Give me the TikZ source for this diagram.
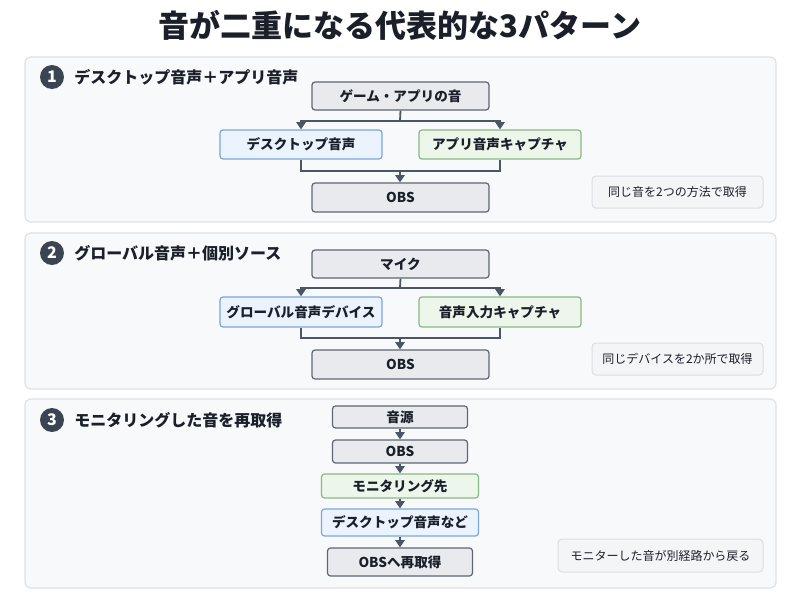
\documentclass[tikz,border=0pt]{standalone}
\usepackage{fontspec}
\setmainfont{Noto Sans CJK JP}
\newfontfamily\titlejp{Noto Sans CJK JP Black}
\usetikzlibrary{arrows.meta}

\definecolor{ink}{HTML}{1A1F29}
\definecolor{panelbg}{HTML}{F8F9FA}
\definecolor{panelline}{HTML}{DEE2E7}
\definecolor{boxgray}{HTML}{E8EAED}
\definecolor{boxline}{HTML}{5F6773}
\definecolor{bluebg}{HTML}{EAF3FE}
\definecolor{blueline}{HTML}{7AA7DC}
\definecolor{greenbg}{HTML}{EDF6EB}
\definecolor{greenline}{HTML}{88B885}
\definecolor{notebg}{HTML}{F4F5F7}
\definecolor{noteline}{HTML}{DADFE5}
\definecolor{arrowc}{HTML}{4B5563}
\definecolor{numbg}{HTML}{3B4452}

\newcommand{\titlefont}{\fontsize{15.5}{18}\selectfont\titlejp}
\newcommand{\headfont}{\fontsize{8}{10}\selectfont\bfseries}
\newcommand{\numfont}{\fontsize{8}{9}\selectfont\bfseries}
\newcommand{\boxfont}{\fontsize{6.8}{8}\selectfont\bfseries}
\newcommand{\notefont}{\fontsize{6}{7.5}\selectfont}

\begin{document}
\begin{tikzpicture}[x=0.5pt,y=-0.5pt,
  panel/.style={draw=panelline,fill=panelbg,rounded corners=3pt,line width=0.6pt},
  box/.style={draw=boxline,fill=boxgray,rounded corners=1.5pt,line width=0.6pt,font=\boxfont,text=ink,inner sep=0pt},
  bluebox/.style={box,draw=blueline,fill=bluebg},
  greenbox/.style={box,draw=greenline,fill=greenbg},
  note/.style={draw=noteline,fill=notebg,rounded corners=2pt,line width=0.5pt,font=\notefont,text=ink,inner sep=0pt},
  num/.style={circle,fill=numbg,text=white,font=\numfont,minimum size=12pt,inner sep=0pt},
  head/.style={anchor=west,font=\headfont,text=ink,inner sep=0pt},
  line/.style={draw=arrowc,line width=0.9pt},
  flow/.style={line,-{Triangle[width=4.6pt,length=3.6pt]}}
]
\fill[white] (0,0) rectangle (800,600);
\useasboundingbox (0,0) rectangle (800,600);

\node[font=\titlefont,text=ink] (title) at (400,25) {音が二重になる代表的な3パターン};

% panels
\draw[panel] (25,57) rectangle (776,222);
\draw[panel] (25,233) rectangle (776,389);
\draw[panel] (25,399) rectangle (776,588);

% pattern 1
\node[num] (n1) at (52,77) {1};
\node[head] (h1) at (74,77) {デスクトップ音声＋アプリ音声};
\node[box,minimum width=88.5pt,minimum height=14pt] (src1) at (400.5,96) {ゲーム・アプリの音};
\node[bluebox,minimum width=81pt,minimum height=14.5pt] (desk1) at (301,144.5) {デスクトップ音声};
\node[greenbox,minimum width=81pt,minimum height=14.5pt] (app1) at (500,144.5) {アプリ音声キャプチャ};
\node[box,minimum width=88.5pt,minimum height=14.5pt] (obs1) at (400.5,197.5) {OBS};
\node[note,minimum width=85.5pt,minimum height=16pt] (note1) at (677.5,192) {同じ音を2つの方法で取得};
\coordinate (s1) at (400,121);
\coordinate (m1) at (400,171);
\draw[line] (src1.south) -- (s1);
\draw[flow] (s1) -| (desk1.north);
\draw[flow] (s1) -| (app1.north);
\draw[line] (desk1.south) |- (m1);
\draw[line] (app1.south) |- (m1);
\draw[flow] (m1) -- (m1 |- obs1.north);

% pattern 2
\node[num] (n2) at (52,253) {2};
\node[head] (h2) at (74,253) {グローバル音声＋個別ソース};
\node[box,minimum width=88.5pt,minimum height=14pt] (mic2) at (400.5,264) {マイク};
\node[bluebox,minimum width=81pt,minimum height=15pt] (glob2) at (301,312) {グローバル音声デバイス};
\node[greenbox,minimum width=81pt,minimum height=15pt] (cap2) at (500,312) {音声入力キャプチャ};
\node[box,minimum width=88.5pt,minimum height=14.5pt] (obs2) at (400.5,364.5) {OBS};
\node[note,minimum width=85.5pt,minimum height=16pt] (note2) at (677.5,359) {同じデバイスを2か所で取得};
\coordinate (s2) at (400,288);
\coordinate (m2) at (400,338);
\draw[line] (mic2.south) -- (s2);
\draw[flow] (s2) -| (glob2.north);
\draw[flow] (s2) -| (cap2.north);
\draw[line] (glob2.south) |- (m2);
\draw[line] (cap2.south) |- (m2);
\draw[flow] (m2) -- (m2 |- obs2.north);

% pattern 3
\node[num] (n3) at (52,420) {3};
\node[head] (h3) at (74,420) {モニタリングした音を再取得};
\node[box,minimum width=67.5pt,minimum height=11pt] (src3) at (400,417) {音源};
\node[box,minimum width=67.5pt,minimum height=11.5pt] (obs3) at (400,451.5) {OBS};
\node[greenbox,minimum width=78.5pt,minimum height=12pt] (mon3) at (400,486) {モニタリング先};
\node[bluebox,minimum width=78.5pt,minimum height=13.5pt] (desk3) at (400,522.5) {デスクトップ音声など};
\node[box,minimum width=72.5pt,minimum height=14pt] (re3) at (400,562) {OBSへ再取得};
\node[note,minimum width=102.5pt,minimum height=16.5pt] (note3) at (660.5,555.5) {モニターした音が別経路から戻る};
\draw[flow] (src3.south) -- (obs3.north);
\draw[flow] (obs3.south) -- (mon3.north);
\draw[flow] (mon3.south) -- (desk3.north);
\draw[flow] (desk3.south) -- (re3.north);
\end{tikzpicture}
\end{document}
